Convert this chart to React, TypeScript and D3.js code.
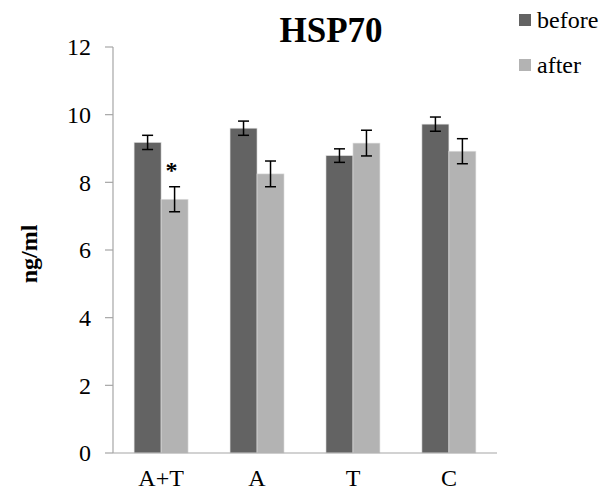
import React from 'react';
import * as d3 from 'd3';

const categories = ['A+T', 'A', 'T', 'C'];
const seriesNames = ['before', 'after'];
const beforeValues = [9.18, 9.6, 8.79, 9.72];
const beforeErrors = [0.21, 0.21, 0.2, 0.21];
const afterValues = [7.5, 8.25, 9.16, 8.92];
const afterErrors = [0.37, 0.38, 0.38, 0.37];
const yTicks = [0, 2, 4, 6, 8, 10, 12];
const significant = [true, false, false, false];

const COLORS = ['#636363', '#b3b3b3'];
const FONT = "'Liberation Serif', 'Times New Roman', serif";

export default function App() {
  const width = 606;
  const height = 493;
  const left = 113;
  const right = 497;
  const top = 47;
  const bottom = 453;

  const x = d3.scaleBand<string>().domain(categories).range([left, right]).paddingInner(0.4375).paddingOuter(0.22);
  const xs = d3.scaleBand<string>().domain(seriesNames).range([0, x.bandwidth()]);
  const y = d3.scaleLinear().domain([0, 12]).range([bottom, top]);

  const series = [
    { name: 'before', values: beforeValues, errors: beforeErrors },
    { name: 'after', values: afterValues, errors: afterErrors },
  ];

  return (
    <svg width={width} height={height} style={{ position: 'absolute', left: 0, top: 0, fontFamily: FONT }}>
      <rect width={width} height={height} fill="#fff" />
      <text x={331} y={42} textAnchor="middle" fontWeight="bold" fontSize={35}>HSP70</text>

      {/* y axis */}
      <line x1={left} x2={left} y1={y(12)} y2={y(0)} stroke="#a6a6a6" strokeWidth={1.2} />
      {yTicks.map(t => (
        <g key={t}>
          <line x1={left - 8} x2={left} y1={y(t)} y2={y(t)} stroke="#a6a6a6" strokeWidth={1.2} />
          <text x={left - 22} y={y(t)} dy="0.35em" textAnchor="end" fontSize={24}>{t}</text>
        </g>
      ))}
      <text transform={`translate(37,${(top + bottom) / 2 + 4}) rotate(-90)`} textAnchor="middle" fontWeight="bold" fontSize={24}>ng/ml</text>

      {/* bars */}
      {series.map((s, si) => (
        <g key={s.name}>
          {categories.map((c, i) => {
            const bx = (x(c) ?? 0) + (xs(s.name) ?? 0);
            const bw = xs.bandwidth();
            const cx = bx + bw / 2;
            return (
              <g key={c}>
                <rect x={bx} y={y(s.values[i])} width={bw} height={y(0) - y(s.values[i])} fill={COLORS[si]} stroke="#e0e0e0" strokeWidth={0.6} />
                <line x1={cx} x2={cx} y1={y(s.values[i] + s.errors[i])} y2={y(s.values[i] - s.errors[i])} stroke="#000" strokeWidth={1.5} />
                <line x1={cx - 5.5} x2={cx + 5.5} y1={y(s.values[i] + s.errors[i])} y2={y(s.values[i] + s.errors[i])} stroke="#000" strokeWidth={1.5} />
                <line x1={cx - 5.5} x2={cx + 5.5} y1={y(s.values[i] - s.errors[i])} y2={y(s.values[i] - s.errors[i])} stroke="#000" strokeWidth={1.5} />
                {si === 1 && significant[i] && (
                  <text x={cx - 3} y={y(s.values[i] + s.errors[i]) - 9} textAnchor="middle" fontWeight="bold" fontSize={24}>*</text>
                )}
              </g>
            );
          })}
        </g>
      ))}

      {/* x axis */}
      <line x1={left} x2={right} y1={y(0)} y2={y(0)} stroke="#a6a6a6" strokeWidth={1.2} />
      {categories.map(c => (
        <text key={c} x={(x(c) ?? 0) + x.bandwidth() / 2} y={486} textAnchor="middle" fontSize={24}>{c}</text>
      ))}

      {/* legend */}
      {seriesNames.map((n, i) => (
        <g key={n} transform={`translate(519,${20 + i * 45})`}>
          <rect x={0} y={-6} width={12} height={12} fill={COLORS[i]} />
          <text x={18} y={0} dy="0.33em" fontSize={24}>{n}</text>
        </g>
      ))}
    </svg>
  );
}
